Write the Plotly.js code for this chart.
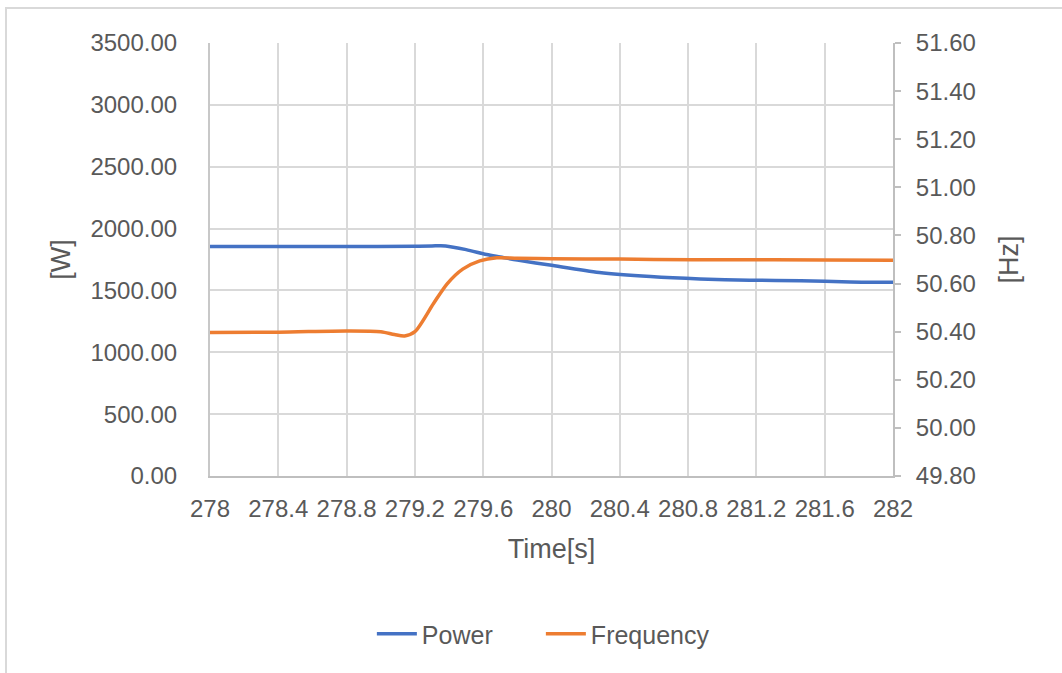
<!DOCTYPE html>
<html>
<head>
<meta charset="utf-8">
<script src="https://cdn.plot.ly/plotly-3.0.1.min.js"></script>
<style>
  html, body { margin: 0; padding: 0; background: #fff; }
  #wrap { position: relative; width: 1062px; height: 673px; overflow: hidden; }
  #chart { position: absolute; left: 0; top: 0; width: 1062px; height: 673px; }
  .bl { position: absolute; left: 5px; top: 7px; width: 2px; height: 666px; background: #d9d9d9; }
  .bt { position: absolute; left: 5px; top: 7px; width: 1057px; height: 2px; background: #d9d9d9; }
</style>
</head>
<body>
<div id="wrap">
  <div id="chart"></div>
  <div class="bl"></div>
  <div class="bt"></div>
</div>
<script>
// Time axis ticks
const xTicks = [278, 278.4, 278.8, 279.2, 279.6, 280, 280.4, 280.8, 281.2, 281.6, 282];
const xTickText = ["278", "278.4", "278.8", "279.2", "279.6", "280", "280.4", "280.8", "281.2", "281.6", "282"];

// Power series [W]
const powerTime = [278.0, 278.4, 278.8, 279.2, 279.3, 279.38, 279.5, 279.62, 279.7, 279.8, 279.99, 280.28, 280.58, 280.87, 281.16, 281.46, 281.75, 282.0];
const powerValue = [1855, 1855, 1855, 1857, 1860, 1860, 1830, 1790, 1770, 1745, 1705, 1645, 1612, 1593, 1583, 1579, 1568, 1566];

// Frequency series [Hz]
const freqTime = [278.0, 278.4, 278.8, 279.0, 279.08, 279.14, 279.2, 279.31, 279.39, 279.48, 279.58, 279.68, 279.8, 280.0, 280.4, 280.6, 281.0, 281.6, 282.0];
const freqValue = [50.397, 50.398, 50.403, 50.400, 50.388, 50.382, 50.400, 50.518, 50.600, 50.660, 50.694, 50.707, 50.705, 50.703, 50.702, 50.700, 50.699, 50.698, 50.697];

const textColor = '#595959';
const gridColor = '#d9d9d9';
const fontFamily = '"Liberation Sans", Arial, sans-serif';

const traces = [
  {
    x: powerTime, y: powerValue, name: 'Power', type: 'scatter', mode: 'lines',
    line: { color: '#4472C4', width: 3.5, shape: 'spline', smoothing: 0.8 },
    yaxis: 'y'
  },
  {
    x: freqTime, y: freqValue, name: 'Frequency', type: 'scatter', mode: 'lines',
    line: { color: '#ED7D31', width: 3.5, shape: 'spline', smoothing: 0.8 },
    yaxis: 'y2'
  }
];

const layout = {
  width: 1062, height: 673,
  margin: { l: 210, r: 169, t: 43, b: 197 },
  paper_bgcolor: 'rgba(0,0,0,0)',
  plot_bgcolor: '#fff',
  font: { family: fontFamily, color: textColor, size: 24 },
  showlegend: true,
  legend: {
    orientation: 'h', x: 0.237, xanchor: 'left', y: -0.365, yanchor: 'middle',
    entrywidth: 114, entrywidthmode: 'pixels',
    font: { family: fontFamily, size: 25, color: textColor }, itemwidth: 40
  },
  xaxis: {
    range: [278, 282], tickvals: xTicks, ticktext: xTickText,
    tickfont: { family: fontFamily, size: 24, color: textColor },
    showgrid: true, gridcolor: gridColor, gridwidth: 2,
    showline: true, linecolor: '#bfbfbf', linewidth: 2,
    ticks: '', zeroline: false, ticklabelstandoff: 10,
    title: { text: 'Time[s]', font: { family: fontFamily, size: 27, color: textColor }, standoff: 18 }
  },
  yaxis: {
    range: [0, 3500], dtick: 500, tick0: 0, tickformat: '.2f',
    tickfont: { family: fontFamily, size: 24, color: textColor },
    showgrid: true, gridcolor: gridColor, gridwidth: 2,
    showline: true, linecolor: '#c8c8c8', linewidth: 2,
    ticks: '', zeroline: false, ticklabelstandoff: 26,
    title: { text: '[W]', font: { family: fontFamily, size: 27, color: textColor }, standoff: 12 }
  },
  yaxis2: {
    range: [49.8, 51.6], dtick: 0.2, tick0: 49.8, tickformat: '.2f',
    tickfont: { family: fontFamily, size: 24, color: textColor },
    overlaying: 'y', side: 'right', anchor: 'x',
    showgrid: false, zeroline: false,
    showline: true, linecolor: '#bfbfbf', linewidth: 2,
    ticks: 'outside', ticklen: 6, tickwidth: 2, tickcolor: '#bfbfbf',
    ticklabelstandoff: 10,
    title: { text: '[Hz]', font: { family: fontFamily, size: 27, color: textColor }, standoff: 24 }
  }
};

Plotly.newPlot('chart', traces, layout, { displayModeBar: false, staticPlot: true });
</script>
</body>
</html>
